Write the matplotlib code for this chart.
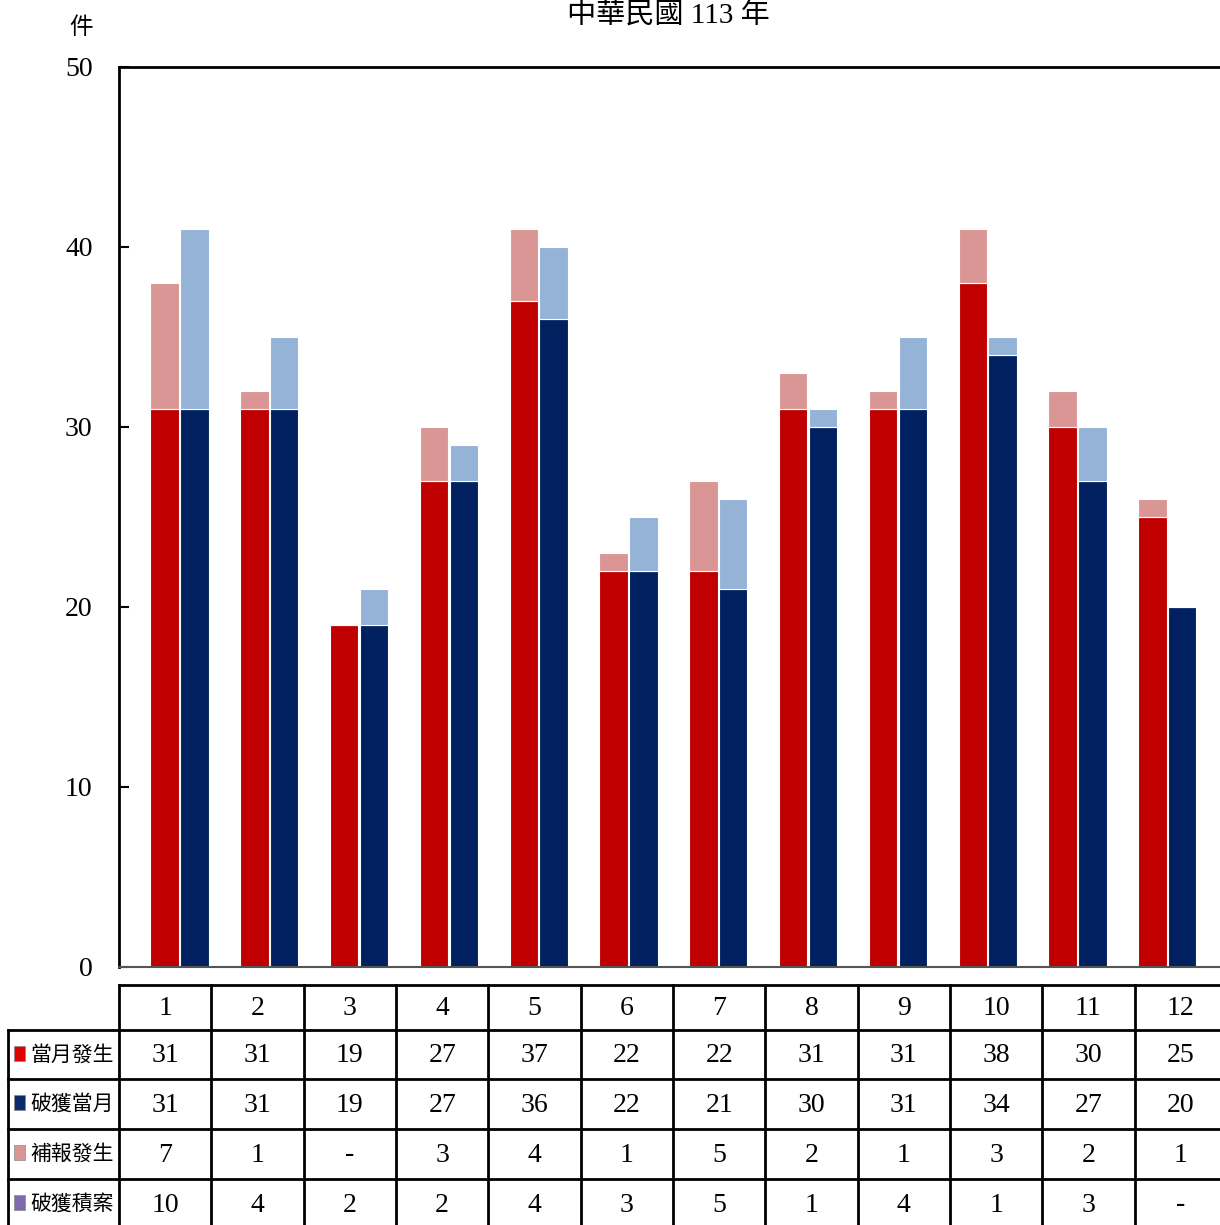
import matplotlib
matplotlib.use("Agg")
import matplotlib.pyplot as plt
from matplotlib.patches import Rectangle

months = [1, 2, 3, 4, 5, 6, 7, 8, 9, 10, 11, 12]
occur_month = [31, 31, 19, 27, 37, 22, 22, 31, 31, 38, 30, 25]
solved_month = [31, 31, 19, 27, 36, 22, 21, 30, 31, 34, 27, 20]
occur_late = [7, 1, 0, 3, 4, 1, 5, 2, 1, 3, 2, 1]
solved_backlog = [10, 4, 2, 2, 4, 3, 5, 1, 4, 1, 3, 0]
row_names = ["當月發生", "破獲當月", "補報發生", "破獲積案"]
bar_colors = ["#C00000", "#002060", "#D99694", "#95B3D7"]
marker_colors = ["#E00000", "#0A2A6A", "#D99694", "#7F6AAE"]
title = "中華民國 113 年"
y_unit = "件"
yticks = [0, 10, 20, 30, 40, 50]

FAM = ["Liberation Serif", "Noto Sans CJK TC", "DejaVu Sans"]
plt.rcParams["font.family"] = FAM

W, H = 1220, 1225
fig = plt.figure(figsize=(W / 100, H / 100), dpi=100)

ov = fig.add_axes([0, 0, 1, 1], zorder=0)
ov.set_xlim(0, W)
ov.set_ylim(H, 0)
ov.axis("off")

ax_left, ax_right, ax_top, ax_bot = 119, 1220, 67, 967
ax = fig.add_axes([ax_left / W, 1 - ax_bot / H, (ax_right - ax_left) / W, (ax_bot - ax_top) / H], zorder=1)
ax.patch.set_alpha(0)

spacing = 89.8
x0 = -(179.5 - ax_left) / spacing
x1 = x0 + (ax_right - ax_left) / spacing
xs = list(range(len(months)))
bw = 0.318
off = 0.166
xl = [x - off for x in xs]
xr = [x + off for x in xs]
ax.bar(xl, occur_month, width=bw, color=bar_colors[0], edgecolor="white", linewidth=0.8)
ax.bar(xl, occur_late, width=bw, bottom=occur_month, color=bar_colors[2], edgecolor="white", linewidth=0.8)
ax.bar(xr, solved_month, width=bw, color=bar_colors[1], edgecolor="white", linewidth=0.8)
ax.bar(xr, solved_backlog, width=bw, bottom=solved_month, color=bar_colors[3], edgecolor="white", linewidth=0.8)

ax.set_xlim(x0, x1)
ax.set_ylim(0, 50)
ax.set_yticks(yticks)
ax.set_yticklabels([str(t) for t in yticks], fontsize=20, family=FAM)
ax.tick_params(axis="y", direction="in", length=7, width=1.5, pad=19)
ax.set_xticks([])
ax.spines["right"].set_visible(False)
ax.spines["left"].set_linewidth(2)
ax.spines["top"].set_linewidth(2)
ax.spines["bottom"].set_linewidth(1.5)
ax.spines["bottom"].set_color("#555555")

fig.text(668 / W, 1 - 16 / H, title, ha="center", va="center", fontsize=21, family=FAM)
fig.text(81 / W, 1 - 28 / H, y_unit, ha="center", va="center", fontsize=17, family=FAM)

# table
col_edges = [119 + k * 92.33 for k in range(len(months) + 1)]
row_edges = [985, 1030, 1079, 1129, 1179, 1229]
lw = 2
ov.plot([col_edges[0], W], [row_edges[0], row_edges[0]], color="black", lw=lw)
for y in row_edges[1:]:
    ov.plot([8, W], [y, y], color="black", lw=lw)
for x in col_edges:
    ov.plot([x, x], [row_edges[0], H], color="black", lw=lw)
ov.plot([8, 8], [row_edges[1], H], color="black", lw=lw)

rows = [occur_month, solved_month, occur_late, solved_backlog]
for j, m in enumerate(months):
    cx = (col_edges[j] + col_edges[j + 1]) / 2
    ov.text(cx, (row_edges[0] + row_edges[1]) / 2 + 1, str(m), ha="center", va="center", fontsize=20, family=FAM)
    for i, r in enumerate(rows):
        v = r[j]
        s = str(v) if v != 0 else "-"
        ov.text(cx, (row_edges[i + 1] + row_edges[i + 2]) / 2 + 1, s, ha="center", va="center", fontsize=20, family=FAM)

for i, name in enumerate(row_names):
    cy = (row_edges[i + 1] + row_edges[i + 2]) / 2
    ov.add_patch(Rectangle((14, cy - 9), 11, 15, facecolor=marker_colors[i], edgecolor="#888888", lw=0.5))
    ov.text(30, cy + 1, name, ha="left", va="center", fontsize=15, family=FAM)

fig.savefig("out.png", dpi=100)
